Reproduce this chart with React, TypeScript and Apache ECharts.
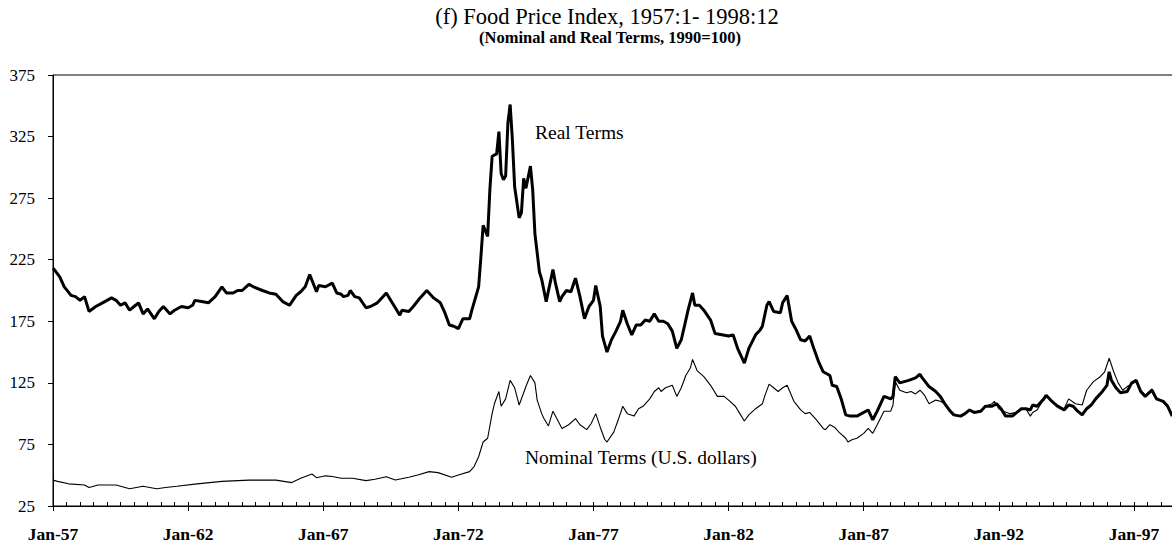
import React, { useEffect, useRef } from "react";
import * as echarts from "echarts";

const TITLE = "(f) Food Price Index, 1957:1- 1998:12";
const SUBTITLE = "(Nominal and Real Terms, 1990=100)";
const REAL_LABEL = "Real Terms";
const NOMINAL_LABEL = "Nominal Terms (U.S. dollars)";

// x axis: months since Jan-1957 (0 = Jan-57, 503 = Dec-98)
const X_TICK_LABELS = ["Jan-57", "Jan-62", "Jan-67", "Jan-72", "Jan-77", "Jan-82", "Jan-87", "Jan-92", "Jan-97"];
const Y_MIN = 25;
const Y_MAX = 375;
const Y_STEP = 50;

const realMonths = [
  0, 1, 3, 5, 8, 10, 12, 14, 16, 19, 22, 26, 28, 30, 32, 34, 36, 38, 40, 42, 45, 47, 49, 52, 54, 57, 60, 62, 63, 66,
  69, 72, 75, 77, 80, 82, 84, 87, 89, 93, 96, 99, 102, 105, 108, 110, 112, 114, 117, 118, 121, 124, 126, 128, 129,
  131, 132, 134, 136, 139, 141, 144, 146, 148, 149, 152, 154, 155, 158, 160, 163, 166, 169, 172, 174, 176, 178, 180,
  182, 185, 186, 189, 190, 191, 193, 194, 195, 197, 198, 199, 200, 201, 202, 203, 204, 205, 207, 208, 209, 210, 212,
  213, 214, 216, 217, 219, 222, 223, 225, 226, 228, 230, 232, 234, 236, 238, 240, 241, 243, 244, 246, 248, 250, 252,
  253, 255, 257, 259, 261, 263, 265, 267, 269, 271, 273, 275, 277, 279, 281, 282, 284, 285, 287, 289, 292, 294, 297,
  300, 302, 304, 307, 309, 312, 314, 315, 317, 318, 320, 323, 324, 326, 328, 330, 332, 334, 336, 338, 340, 342, 345,
  346, 348, 350, 352, 354, 357, 359, 362, 364, 366, 369, 372, 373, 374, 376, 378, 380, 383, 385, 386, 389, 392, 394,
  396, 398, 400, 403, 405, 407, 409, 412, 414, 417, 419, 421, 423, 426, 428, 430, 432, 434, 435, 437, 440, 441, 443,
  446, 449, 451, 453, 455, 457, 459, 461, 463, 466, 468, 469, 470, 472, 474, 477, 479, 481, 483, 485, 488, 490, 493,
  495, 497,
];
const realValues = [
  218, 216, 211, 203, 196, 195, 192, 195, 183, 187, 190, 194, 192, 188, 190, 184, 187, 190, 181, 185, 177, 183, 187,
  181, 184, 187, 186, 188, 192, 191, 190, 195, 203, 198, 198, 200, 200, 205, 203, 200, 198, 197, 191, 188, 196, 199,
  203, 213, 199, 204, 203, 206, 198, 197, 195, 196, 200, 195, 194, 186, 187, 190, 194, 198, 195, 186, 180, 184, 183,
  187, 194, 200, 194, 190, 182, 172, 171, 169, 177, 177, 184, 203, 227, 253, 244, 282, 309, 311, 329, 295, 290, 293,
  336, 351, 322, 284, 259, 263, 291, 283, 301, 282, 246, 215, 209, 191, 217, 207, 191, 195, 200, 199, 210, 195, 177,
  187, 192, 204, 187, 163, 150, 160, 167, 175, 184, 173, 164, 172, 172, 176, 175, 181, 175, 175, 173, 167, 153, 160,
  176, 184, 198, 188, 188, 184, 176, 165, 164, 163, 164, 153, 141, 153, 164, 168, 171, 188, 191, 183, 182, 190, 196,
  175, 168, 160, 159, 163, 152, 142, 134, 131, 123, 122, 112, 99, 98, 98, 100, 103, 95, 102, 114, 112, 114, 130, 125,
  126, 127, 129, 132, 129, 122, 118, 114, 108, 103, 99, 98, 100, 103, 101, 102, 106, 106, 108, 104, 98, 98, 101, 104,
  104, 103, 107, 106, 112, 115, 111, 106, 103, 107, 106, 102, 99, 104, 107, 112, 118, 123, 134, 127, 121, 117, 118,
  125, 127, 118, 114, 119, 112, 110, 106, 98,
];

const nominalMonths = [
  0, 2, 7, 14, 16, 20, 28, 34, 40, 46, 50, 55, 64, 75, 87, 99, 106, 110, 115, 117, 121, 124, 128, 133, 139, 143, 148,
  152, 158, 162, 167, 171, 177, 180, 185, 187, 189, 191, 193, 195, 196, 198, 199, 201, 203, 205, 207, 209, 210, 212,
  214, 215, 217, 218, 220, 222, 224, 226, 229, 232, 234, 237, 239, 241, 243, 245, 246, 249, 251, 253, 255, 258, 260,
  262, 265, 267, 269, 270, 272, 275, 277, 279, 281, 283, 284, 286, 289, 292, 295, 298, 300, 303, 305, 307, 309, 312,
  315, 316, 318, 320, 322, 324, 326, 329, 332, 334, 336, 339, 342, 343, 345, 347, 349, 352, 353, 355, 357, 360, 362,
  364, 366, 369, 372, 373, 374, 376, 379, 381, 383, 385, 387, 389, 392, 394, 396, 398, 400, 403, 405, 407, 409, 412,
  414, 417, 418, 420, 422, 425, 428, 430, 432, 434, 435, 437, 440, 441, 443, 446, 449, 451, 454, 457, 459, 462, 465,
  467, 469, 471, 473, 475, 477, 480, 481, 483, 485, 488, 490, 493, 495, 497,
];
const nominalValues = [
  46, 45, 43, 42, 40, 42, 42, 39, 41, 39, 40, 41, 43, 45, 46, 46, 44, 47.5, 51, 48, 49.5, 49, 47.5, 47.5, 45.6, 46.7,
  48.8, 46.1, 48.3, 50.2, 52.9, 52.1, 48.3, 50.2, 52.9, 57, 65, 77, 80, 100, 108, 118, 106, 112, 127, 121, 107, 117,
  122, 131, 125, 111, 100, 96, 90, 102, 95, 88, 91, 96, 91, 87, 92, 100, 89, 79, 77, 85, 95, 106, 100, 98, 104, 106,
  112, 118, 121, 118, 121, 123, 114, 121, 131, 137, 144, 135, 130, 123, 114, 114, 111, 106, 100, 94, 99, 104, 108,
  114, 124, 121, 118, 121, 123, 110, 103, 100, 101, 95, 88, 87, 91, 89, 85, 80, 77, 79, 80, 84, 88, 84, 91, 102, 102,
  107, 126, 119, 117, 118, 116, 119, 115, 108, 111, 110, 108, 103, 99, 98, 100, 103, 101, 102, 106, 108, 110, 104,
  102, 100, 101, 104, 104, 98, 101, 103, 112, 114, 111, 107, 104, 112, 108, 107, 119, 126, 130, 134, 145, 134, 125,
  119, 122, 125, 126, 119, 115, 120, 113, 109, 105, 100,
];

const SERIF = '"Liberation Serif", "Times New Roman", serif';

export default function App() {
  const ref = useRef<HTMLDivElement>(null);

  useEffect(() => {
    document.body.style.margin = "0";
    if (!ref.current) return;
    const chart = echarts.init(ref.current, null, { renderer: "svg" });

    const realData = realMonths.map((m, i) => [m, realValues[i]]);
    const nominalData = nominalMonths.map((m, i) => [m, nominalValues[i]]);

    chart.setOption({
      animation: false,
      backgroundColor: "#fff",
      grid: {
        left: 53,
        top: 75,
        width: 1132.75,
        height: 431,
        containLabel: false,
        outerBoundsMode: "none",
        show: true,
        borderColor: "#000",
        borderWidth: 1,
        backgroundColor: "transparent",
      },
      xAxis: [
        {
          type: "value",
          min: 0,
          max: 503,
          interval: 60,
          position: "bottom",
          axisLine: { show: true, onZero: false, lineStyle: { color: "#000", width: 1 } },
          axisTick: { show: true, inside: false, length: 5, lineStyle: { color: "#000", width: 1 } },
          axisLabel: {
            color: "#000",
            fontFamily: SERIF,
            fontSize: 17.5,
            fontWeight: "bold",
            margin: 19,
            formatter: (v: number) => (v % 60 === 0 ? X_TICK_LABELS[v / 60] ?? "" : ""),
          },
          splitLine: { show: false },
        },
        {
          type: "value",
          min: 0,
          max: 503,
          interval: 6,
          position: "bottom",
          axisLine: { show: false, onZero: false },
          axisTick: { show: true, inside: true, length: 4, lineStyle: { color: "#000", width: 1 } },
          axisLabel: { show: false },
          splitLine: { show: false },
        },
      ],
      yAxis: {
        type: "value",
        min: Y_MIN,
        max: Y_MAX,
        interval: Y_STEP,
        axisLine: { show: true, lineStyle: { color: "#000", width: 1 } },
        axisTick: { show: true, inside: false, length: 5, lineStyle: { color: "#000", width: 1 } },
        axisLabel: { color: "#000", fontFamily: SERIF, fontSize: 17, margin: 18 },
        splitLine: { show: false },
      },
      series: [
        {
          name: NOMINAL_LABEL,
          type: "line",
          xAxisIndex: 0,
          data: nominalData,
          symbol: "none",
          showSymbol: false,
          lineStyle: { color: "#000", width: 1.1 },
          z: 2,
        },
        {
          name: REAL_LABEL,
          type: "line",
          xAxisIndex: 0,
          data: realData,
          symbol: "none",
          showSymbol: false,
          lineStyle: { color: "#000", width: 3 },
          z: 3,
        },
      ],
      graphic: [
        {
          type: "text",
          x: 607,
          y: 16,
          style: {
            text: TITLE,
            fill: "#000",
            font: `22.5px ${SERIF}`,
            textAlign: "center",
            textVerticalAlign: "middle",
            align: "center",
            verticalAlign: "middle",
          },
        },
        {
          type: "text",
          x: 610,
          y: 37,
          style: {
            text: SUBTITLE,
            fill: "#000",
            font: `bold 16.5px ${SERIF}`,
            textAlign: "center",
            textVerticalAlign: "middle",
            align: "center",
            verticalAlign: "middle",
          },
        },
        {
          type: "text",
          x: 535,
          y: 132,
          z: 10,
          style: {
            text: REAL_LABEL,
            fill: "#000",
            font: `19.5px ${SERIF}`,
            textAlign: "left",
            textVerticalAlign: "middle",
            align: "left",
            verticalAlign: "middle",
          },
        },
        {
          type: "text",
          x: 525,
          y: 457,
          z: 10,
          style: {
            text: NOMINAL_LABEL,
            fill: "#000",
            font: `19.5px ${SERIF}`,
            textAlign: "left",
            textVerticalAlign: "middle",
            align: "left",
            verticalAlign: "middle",
          },
        },
      ],
    });

    return () => {
      chart.dispose();
    };
  }, []);

  return <div ref={ref} style={{ width: 1172, height: 544 }} />;
}
